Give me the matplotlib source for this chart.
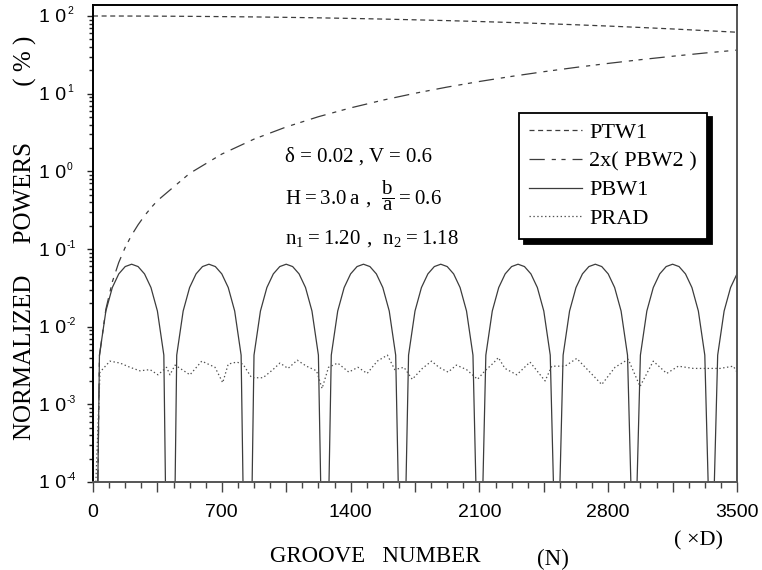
import matplotlib
matplotlib.use('Agg')
import matplotlib.pyplot as plt
from matplotlib.ticker import FixedLocator, FixedFormatter, NullFormatter, LogLocator
import numpy as np

plt.rcParams['lines.scale_dashes'] = False

# ---------------- data ----------------
N_smooth = [0, 35, 70, 105, 140, 175, 210, 245, 280, 315, 350, 525, 700, 875, 1050,
            1225, 1400, 1575, 1750, 1925, 2100, 2275, 2450, 2625, 2800, 2975, 3150,
            3325, 3500]
PTW1 = [100, 100, 99.98, 99.96, 99.93, 99.89, 99.84, 99.79, 99.72, 99.65, 99.57,
        99.0, 98.2, 97.3, 96.1, 94.7, 93.1, 91.3, 89.3, 87.2, 84.9, 82.4, 79.8,
        77.1, 74.2, 71.2, 68.1, 64.9, 61.8]
PBW2x2 = [1e-9, 0.0042, 0.0168, 0.0377, 0.0671, 0.105, 0.151, 0.205, 0.268, 0.339,
          0.419, 0.940, 1.668, 2.598, 3.726, 5.049, 6.560, 8.252, 10.12, 12.16,
          14.35, 16.69, 19.18, 21.80, 24.53, 27.38, 30.33, 33.36, 36.38]

N_bw1 = list(range(0, 3501, 35))
PBW1 = [
    1e-9, 0.0043, 0.0159, 0.0319, 0.0478, 0.0594, 0.0637, 0.0594, 0.0478, 0.0319, 0.0159, 0.0043,
    1e-9, 0.0043, 0.0159, 0.0319, 0.0478, 0.0594, 0.0637, 0.0594, 0.0478, 0.0319, 0.0159, 0.0043,
    1e-8, 0.0043, 0.0159, 0.0319, 0.0478, 0.0594, 0.0637, 0.0594, 0.0478, 0.0319, 0.0159, 0.0043,
    1e-7, 0.0043, 0.0159, 0.0319, 0.0478, 0.0594, 0.0637, 0.0594, 0.0478, 0.0319, 0.0159, 0.0043,
    3e-7, 0.0043, 0.0159, 0.0319, 0.0478, 0.0594, 0.0637, 0.0594, 0.0478, 0.0319, 0.0159, 0.0043,
    1e-6, 0.0043, 0.0159, 0.0319, 0.0478, 0.0594, 0.0637, 0.0594, 0.0478, 0.0319, 0.0159, 0.0043,
    2e-6, 0.0043, 0.0159, 0.0319, 0.0478, 0.0594, 0.0637, 0.0594, 0.0478, 0.0319, 0.0159, 0.0043,
    3e-6, 0.0043, 0.0159, 0.0319, 0.0478, 0.0594, 0.0637, 0.0594, 0.0478, 0.0319, 0.0159, 0.0043,
    3e-6, 0.0043, 0.0159, 0.0319, 0.0478]

N_rad = [0, 38, 92, 147, 201, 255, 310, 353, 400, 418, 446, 527, 591, 663, 705, 735,
         781, 815, 862, 924, 978, 1016, 1060, 1110, 1160, 1215, 1245, 1280, 1330,
         1390, 1440, 1490, 1545, 1600, 1640, 1690, 1735, 1790, 1840, 1880, 1930,
         1975, 2030, 2090, 2130, 2176, 2203, 2239, 2303, 2375, 2457, 2493, 2565,
         2629, 2765, 2837, 2909, 2973, 3045, 3118, 3181, 3263, 3408, 3480, 3500]
PRAD = [1e-5, 0.0026, 0.0036, 0.0034, 0.0030, 0.0027, 0.0028, 0.0024, 0.0030, 0.0024,
        0.0032, 0.0024, 0.0036, 0.0030, 0.0019, 0.0033, 0.0035, 0.0033, 0.0022,
        0.0022, 0.0028, 0.0034, 0.0029, 0.0037, 0.0031, 0.0027, 0.0016, 0.0030,
        0.0034, 0.0026, 0.0030, 0.0025, 0.0036, 0.0043, 0.0028, 0.0030, 0.0021,
        0.0029, 0.0036, 0.0030, 0.0026, 0.0032, 0.0028, 0.0021, 0.0027, 0.0034,
        0.0040, 0.0029, 0.0024, 0.0035, 0.0020, 0.0031, 0.0031, 0.0039, 0.0018,
        0.0030, 0.0038, 0.0017, 0.0036, 0.0025, 0.0031, 0.0029, 0.0029, 0.0031,
        0.0026]

series_labels = ['PTW1', '2x( PBW2 )', 'PBW1', 'PRAD']
x_major = [0, 350, 700, 1050, 1400, 1750, 2100, 2450, 2800, 3150, 3500]
x_labels = ['0', '', '700', '', '1400', '', '2100', '', '2800', '', '3500']
y_decades = [-4, -3, -2, -1, 0, 1, 2]

# ---------------- figure ----------------
W, H, DPI = 762, 570, 100
fig = plt.figure(figsize=(W / DPI, H / DPI), dpi=DPI)


def fx(px):
    return px / W


def fy(py):
    return 1 - py / H


L, R, T, B = 93, 737, 5, 482
PX_DEC = (482 - 16) / 6.0
ax = fig.add_axes([fx(L), fy(B), (R - L) / W, (B - T) / H])
ax.set_yscale('log')
ax.set_xlim(0, 3500)
ax.set_ylim(1e-4, 10 ** (2 + (16 - 5) / PX_DEC))

lc = '#3c3c3c'
ax.plot(N_smooth, PTW1, color=lc, lw=0.9, ls=(0, (3.6, 2.6)), label=series_labels[0])
ax.plot(N_smooth, PBW2x2, color=lc, lw=0.9, ls=(0, (11, 5, 3, 4, 3, 5)), label=series_labels[1])
ax.plot(N_bw1, PBW1, color=lc, lw=0.9, ls='-', label=series_labels[2])
ax.plot(N_rad, PRAD, color='#505050', lw=0.9, ls=(0, (1, 1.8)), label=series_labels[3])

# ticks
ax.xaxis.set_major_locator(FixedLocator(x_major))
ax.xaxis.set_major_formatter(FixedFormatter(x_labels))
ax.xaxis.set_minor_locator(FixedLocator(np.arange(0, 3501, 87.5)))
ax.tick_params(axis='x', which='major', direction='out', length=7, width=1.0,
               color='#444444', pad=9, labelsize=14)
ax.tick_params(axis='x', which='minor', direction='out', length=4, width=1.0,
               color='#444444')
for lab in ax.get_xticklabels():
    lab.set_family('Liberation Sans')

ax.yaxis.set_major_locator(FixedLocator([10.0 ** d for d in y_decades]))
ax.yaxis.set_major_formatter(FixedFormatter(['1 0'] * len(y_decades)))
ax.yaxis.set_minor_locator(LogLocator(base=10, subs=np.arange(2, 10)))
ax.yaxis.set_minor_formatter(NullFormatter())
ax.tick_params(axis='y', which='major', direction='out', length=4.5, width=1.0,
               color='#222222', pad=14.5, labelsize=14)
ax.tick_params(axis='y', which='minor', direction='out', length=3, width=1.0,
               color='#222222')
for lab in ax.get_yticklabels():
    lab.set_family('Liberation Sans')

for d in y_decades:
    ypx = 16 + (2 - d) * PX_DEC
    fig.text(fx(67), fy(ypx - 4.5), str(d), ha='left', va='center', fontsize=7.5,
             family='Liberation Sans')

for s in ['top', 'left']:
    ax.spines[s].set_color('black')
    ax.spines[s].set_linewidth(1.4)
for s in ['bottom', 'right']:
    ax.spines[s].set_color('#555555')
    ax.spines[s].set_linewidth(1.4)

serif = 'Liberation Serif'
# axis labels
fig.text(fx(25), fy(238), 'NORMALIZED     POWERS' + ' ' * 9 + '( % )', rotation=90,
         ha='center', va='center', fontsize=18, family=serif)
fig.text(fx(270), fy(557), 'GROOVE   NUMBER', ha='left', va='center',
         fontsize=16.5, family=serif)
fig.text(fx(553), fy(559), '(N)', ha='center', va='center', fontsize=16.5, family=serif)
fig.text(fx(698), fy(541), '( \u00d7D)', ha='center', va='center', fontsize=16, family=serif)

# annotations
fig.text(fx(285), fy(161.7), '\u03b4 = 0.02 , V = 0.6', ha='left', va='baseline',
         fontsize=15, family=serif)
fig.text(fx(285), fy(205), r'$\mathregular{H = 3.0\,a\ ,\ \dfrac{b}{a} = 0.6}$',
         ha='left', va='baseline', fontsize=15, family=serif)
fig.text(fx(285), fy(243.3), r'$\mathregular{n_1 = 1.20\ ,\ n_2 = 1.18}$',
         ha='left', va='baseline', fontsize=15, family=serif)

# legend
leg = ax.legend(loc='upper left', bbox_to_anchor=(fx(519), fy(112.7)),
                bbox_transform=fig.transFigure, borderaxespad=0, frameon=True,
                fancybox=False, framealpha=1,
                shadow={'color': 'black', 'alpha': 1, 'ox': 3.6, 'oy': -3.3},
                prop={'family': serif, 'size': 16}, handlelength=2.4,
                handletextpad=0.3, labelspacing=0.36, borderpad=0.45)
leg.get_frame().set_edgecolor('black')
leg.get_frame().set_linewidth(1.3)

fig.savefig('out.png', dpi=DPI)
